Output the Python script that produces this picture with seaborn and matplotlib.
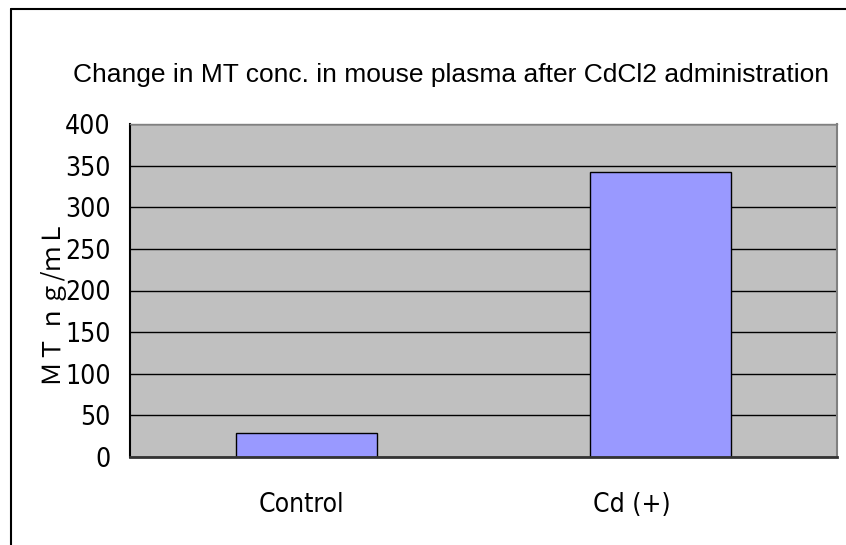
import numpy as np
import seaborn as sns
import matplotlib.pyplot as plt
from matplotlib import font_manager
from matplotlib.lines import Line2D
from matplotlib.transforms import ScaledTranslation

# data
categories = ['Control', 'Cd (+)']
values = [29, 342]
y_ticks = [0, 50, 100, 150, 200, 250, 300, 350, 400]

title = 'Change in MT conc. in mouse plasma after CdCl2 administration'
ylabel = 'ＭＴ ｎｇ/ｍＬ'

sns.set_style('white')
plt.rcParams['text.color'] = 'black'
plt.rcParams['xtick.color'] = 'black'
plt.rcParams['ytick.color'] = 'black'
plt.rcParams['axes.labelcolor'] = 'black'

# narrow font for tick labels (Excel used a gothic half-width face)
names = {f.name for f in font_manager.fontManager.ttflist}
if 'Liberation Sans Narrow' in names:
    tick_font = dict(family='Liberation Sans Narrow')
else:
    tick_font = dict(family='DejaVu Sans', stretch='condensed')

fig = plt.figure(figsize=(8.46, 5.45), dpi=100)
ax = fig.add_axes([130 / 846, 88 / 545, 707 / 846, 333 / 545])
ax.set_facecolor('#C0C0C0')

sns.barplot(x=categories, y=values, color='#9999FF', saturation=1,
            edgecolor='black', linewidth=1, width=0.4, ax=ax)

ax.set_xlim(-0.5, 1.5)
ax.set_ylim(0, 400)
ax.set_yticks(y_ticks)
ax.set_yticklabels([str(v) for v in y_ticks], fontsize=19, **tick_font)
ax.set_xticks([0, 1])
ax.set_xticklabels(categories, fontsize=19, **tick_font)
ax.set_xticks([0.5], minor=True)
ax.tick_params(axis='y', length=0, pad=14)
ax.tick_params(axis='x', which='major', length=0, pad=25)
ax.tick_params(axis='x', which='minor', length=7, width=1.2, direction='in', color='#333333')

# labels sit a bit left of the bar centres in the original
shifts = [-5, -28]
for lab, dx in zip(ax.get_xticklabels(), shifts):
    lab.set_transform(lab.get_transform() + ScaledTranslation(dx / 100, 0, fig.dpi_scale_trans))

ax.yaxis.grid(True, color='black', linewidth=1)
ax.set_axisbelow(True)

ax.spines['left'].set_color('black')
ax.spines['left'].set_linewidth(1.5)
ax.spines['bottom'].set_color('#333333')
ax.spines['bottom'].set_linewidth(2)
ax.spines['right'].set_color('#808080')
ax.spines['right'].set_linewidth(1.5)
ax.spines['top'].set_color('#808080')
ax.spines['top'].set_linewidth(1)

ax.set_xlabel('')
ax.set_ylabel(ylabel, family=['Noto Sans CJK JP', 'DejaVu Sans'], fontsize=18)
ax.yaxis.set_label_coords(-0.089, 0.4625)

fig.text(451 / 846, 1 - 82 / 545, title, ha='center', va='baseline',
         family='Liberation Sans', fontsize=19)

# chart frame (only left and top edges are inside the crop)
fig.add_artist(Line2D([11 / 846, 11 / 846], [0, 1 - 9 / 545], color='black', lw=1.5))
fig.add_artist(Line2D([11 / 846, 1], [1 - 9 / 545, 1 - 9 / 545], color='black', lw=1.5))

fig.savefig('out.png', dpi=100)
